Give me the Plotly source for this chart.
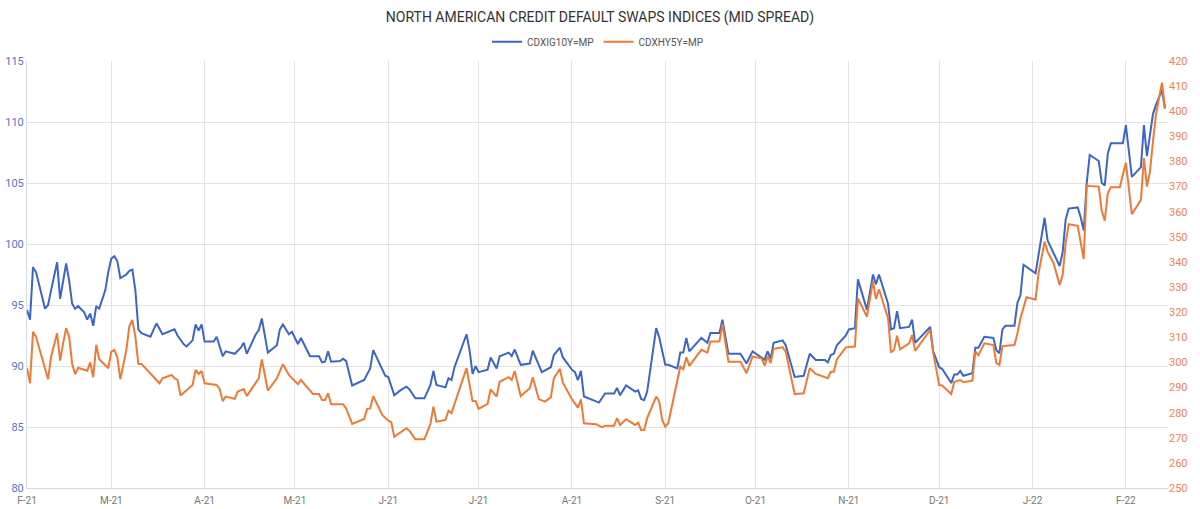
import plotly.graph_objects as go

ig_dates = [
    "2021-02-01", "2021-02-02", "2021-02-03", "2021-02-04", "2021-02-07", "2021-02-08", "2021-02-09", "2021-02-11",
    "2021-02-12", "2021-02-13", "2021-02-14", "2021-02-15", "2021-02-16", "2021-02-17", "2021-02-18", "2021-02-20",
    "2021-02-21", "2021-02-22", "2021-02-23", "2021-02-24", "2021-02-25", "2021-02-27", "2021-02-28", "2021-03-01",
    "2021-03-02", "2021-03-03", "2021-03-04", "2021-03-06", "2021-03-07", "2021-03-08", "2021-03-09", "2021-03-10",
    "2021-03-11", "2021-03-14", "2021-03-16", "2021-03-18", "2021-03-22", "2021-03-23", "2021-03-25", "2021-03-26",
    "2021-03-28", "2021-03-29", "2021-03-30", "2021-03-31", "2021-04-01", "2021-04-04", "2021-04-05", "2021-04-07",
    "2021-04-08", "2021-04-11", "2021-04-13", "2021-04-14", "2021-04-15", "2021-04-18", "2021-04-19", "2021-04-20",
    "2021-04-22", "2021-04-25", "2021-04-26", "2021-04-27", "2021-04-29", "2021-04-30", "2021-05-02", "2021-05-03",
    "2021-05-06", "2021-05-09", "2021-05-10", "2021-05-11", "2021-05-12", "2021-05-13", "2021-05-16", "2021-05-17",
    "2021-05-18", "2021-05-20", "2021-05-24", "2021-05-26", "2021-05-27", "2021-05-31", "2021-06-01", "2021-06-03",
    "2021-06-05", "2021-06-07", "2021-06-08", "2021-06-10", "2021-06-13", "2021-06-15", "2021-06-16", "2021-06-17",
    "2021-06-20", "2021-06-21", "2021-06-22", "2021-06-23", "2021-06-27", "2021-06-28", "2021-06-29", "2021-06-30",
    "2021-07-01", "2021-07-04", "2021-07-05", "2021-07-07", "2021-07-08", "2021-07-11", "2021-07-12", "2021-07-13",
    "2021-07-15", "2021-07-18", "2021-07-19", "2021-07-22", "2021-07-25", "2021-07-26", "2021-07-28", "2021-07-29",
    "2021-08-01", "2021-08-02", "2021-08-03", "2021-08-04", "2021-08-05", "2021-08-08", "2021-08-10", "2021-08-12",
    "2021-08-15", "2021-08-16", "2021-08-17", "2021-08-19", "2021-08-22", "2021-08-23", "2021-08-24", "2021-08-25",
    "2021-08-26", "2021-08-29", "2021-08-30", "2021-09-01", "2021-09-02", "2021-09-05", "2021-09-06", "2021-09-07",
    "2021-09-08", "2021-09-09", "2021-09-13", "2021-09-15", "2021-09-16", "2021-09-19", "2021-09-20", "2021-09-22",
    "2021-09-26", "2021-09-28", "2021-09-30", "2021-10-03", "2021-10-04", "2021-10-05", "2021-10-06", "2021-10-07",
    "2021-10-10", "2021-10-11", "2021-10-14", "2021-10-17", "2021-10-19", "2021-10-21", "2021-10-24", "2021-10-25",
    "2021-10-26", "2021-10-27", "2021-10-28", "2021-10-31", "2021-11-01", "2021-11-03", "2021-11-04", "2021-11-07",
    "2021-11-09", "2021-11-10", "2021-11-11", "2021-11-14", "2021-11-15", "2021-11-16", "2021-11-17", "2021-11-18",
    "2021-11-21", "2021-11-22", "2021-11-23", "2021-11-28", "2021-11-29", "2021-12-01", "2021-12-02", "2021-12-05",
    "2021-12-06", "2021-12-07", "2021-12-08", "2021-12-09", "2021-12-12", "2021-12-13", "2021-12-14", "2021-12-16",
    "2021-12-19", "2021-12-20", "2021-12-21", "2021-12-22", "2021-12-23", "2021-12-26", "2021-12-27", "2021-12-28",
    "2021-12-29", "2022-01-02", "2022-01-03", "2022-01-05", "2022-01-06", "2022-01-08", "2022-01-10", "2022-01-11",
    "2022-01-12", "2022-01-13", "2022-01-16", "2022-01-17", "2022-01-18", "2022-01-19", "2022-01-20", "2022-01-23",
    "2022-01-24", "2022-01-25", "2022-01-26", "2022-01-27", "2022-01-31", "2022-02-01", "2022-02-03", "2022-02-06",
    "2022-02-07", "2022-02-08", "2022-02-09", "2022-02-10", "2022-02-11", "2022-02-13", "2022-02-14",
]
ig_values = [
    94.6, 93.8, 98.1, 97.7, 94.7, 95.0, 96.2, 98.5,
    95.5, 97.0, 98.4, 97.0, 95.1, 94.7, 94.9, 94.4,
    93.8, 94.3, 93.3, 94.9, 94.7, 96.2, 97.7, 98.8,
    99.0, 98.6, 97.2, 97.5, 97.8, 97.9, 96.2, 93.0,
    92.7, 92.4, 93.5, 92.6, 93.0, 92.5, 91.8, 91.6,
    92.1, 93.4, 92.9, 93.4, 92.0, 92.0, 92.4, 90.8,
    91.2, 91.0, 91.5, 91.9, 91.0, 92.6, 92.95, 93.9,
    91.1, 91.7, 93.0, 93.4, 92.6, 92.8, 91.8, 92.3,
    90.8, 90.8, 90.3, 90.35, 91.2, 90.35, 90.4, 90.6,
    90.4, 88.4, 88.85, 89.8, 91.3, 89.2, 89.1, 87.6,
    88.0, 88.3, 88.1, 87.35, 87.35, 88.45, 89.6, 88.45,
    88.25, 89.0, 88.85, 89.9, 92.6, 91.3, 89.35, 90.0,
    89.5, 89.7, 90.7, 89.8, 90.8, 91.1, 90.8, 91.35,
    90.1, 90.2, 91.25, 89.5, 89.9, 90.9, 91.5, 90.7,
    89.7, 89.5, 88.85, 89.6, 87.5, 87.2, 87.0, 87.75,
    87.75, 88.2, 87.6, 88.4, 87.9, 88.0, 87.3, 87.2,
    87.9, 93.1, 92.35, 90.1, 90.1, 89.8, 91.1, 91.1,
    92.3, 91.2, 92.3, 91.9, 92.7, 92.7, 93.8, 91.0,
    91.0, 90.2, 91.2, 90.7, 90.5, 91.2, 90.6, 91.9,
    92.1, 91.7, 89.1, 89.2, 91.0, 90.5, 90.5, 90.3,
    90.9, 91.0, 91.7, 92.5, 93.0, 93.1, 97.1, 94.6,
    97.5, 96.7, 97.5, 95.1, 93.0, 93.1, 94.5, 93.1,
    93.2, 93.8, 91.9, 93.2, 91.2, 89.9, 89.75, 88.6,
    89.3, 89.3, 89.6, 89.2, 89.4, 91.5, 91.5, 92.4,
    92.3, 91.3, 91.05, 93.0, 93.3, 93.3, 95.2, 95.8,
    98.3, 97.6, 99.2, 102.15, 100.3, 99.3, 98.2, 99.3,
    102.0, 102.9, 103.0, 102.2, 101.1, 105.0, 107.3, 106.8,
    105.0, 104.8, 107.4, 108.25, 108.25, 109.75, 105.5, 106.3,
    109.75, 107.2, 109.1, 110.65, 111.4, 112.6, 111.1,
]

hy_dates = [
    "2021-02-01", "2021-02-02", "2021-02-03", "2021-02-04", "2021-02-08", "2021-02-09", "2021-02-11", "2021-02-12",
    "2021-02-13", "2021-02-14", "2021-02-15", "2021-02-16", "2021-02-17", "2021-02-18", "2021-02-21", "2021-02-22",
    "2021-02-23", "2021-02-24", "2021-02-25", "2021-02-28", "2021-03-01", "2021-03-02", "2021-03-03", "2021-03-04",
    "2021-03-06", "2021-03-07", "2021-03-08", "2021-03-09", "2021-03-10", "2021-03-11", "2021-03-15", "2021-03-17",
    "2021-03-18", "2021-03-21", "2021-03-22", "2021-03-23", "2021-03-24", "2021-03-28", "2021-03-29", "2021-03-30",
    "2021-03-31", "2021-04-01", "2021-04-05", "2021-04-06", "2021-04-07", "2021-04-08", "2021-04-11", "2021-04-12",
    "2021-04-14", "2021-04-15", "2021-04-19", "2021-04-20", "2021-04-22", "2021-04-25", "2021-04-27", "2021-04-29",
    "2021-05-02", "2021-05-03", "2021-05-07", "2021-05-09", "2021-05-10", "2021-05-11", "2021-05-12", "2021-05-13",
    "2021-05-17", "2021-05-18", "2021-05-20", "2021-05-24", "2021-05-25", "2021-05-26", "2021-05-27", "2021-05-30",
    "2021-06-01", "2021-06-02", "2021-06-03", "2021-06-05", "2021-06-07", "2021-06-08", "2021-06-10", "2021-06-13",
    "2021-06-15", "2021-06-16", "2021-06-17", "2021-06-20", "2021-06-21", "2021-06-22", "2021-06-27", "2021-06-29",
    "2021-06-30", "2021-07-01", "2021-07-04", "2021-07-05", "2021-07-07", "2021-07-08", "2021-07-11", "2021-07-12",
    "2021-07-13", "2021-07-15", "2021-07-18", "2021-07-19", "2021-07-21", "2021-07-23", "2021-07-25", "2021-07-26",
    "2021-07-28", "2021-07-29", "2021-08-01", "2021-08-03", "2021-08-04", "2021-08-05", "2021-08-09", "2021-08-11",
    "2021-08-12", "2021-08-15", "2021-08-16", "2021-08-17", "2021-08-19", "2021-08-22", "2021-08-23", "2021-08-24",
    "2021-08-25", "2021-08-26", "2021-08-29", "2021-08-30", "2021-08-31", "2021-09-01", "2021-09-02", "2021-09-06",
    "2021-09-07", "2021-09-08", "2021-09-09", "2021-09-13", "2021-09-15", "2021-09-16", "2021-09-19", "2021-09-20",
    "2021-09-22", "2021-09-26", "2021-09-28", "2021-09-30", "2021-10-03", "2021-10-04", "2021-10-05", "2021-10-06",
    "2021-10-07", "2021-10-10", "2021-10-11", "2021-10-14", "2021-10-17", "2021-10-19", "2021-10-21", "2021-10-25",
    "2021-10-26", "2021-10-27", "2021-10-28", "2021-10-31", "2021-11-03", "2021-11-04", "2021-11-07", "2021-11-09",
    "2021-11-10", "2021-11-11", "2021-11-14", "2021-11-15", "2021-11-16", "2021-11-17", "2021-11-18", "2021-11-21",
    "2021-11-22", "2021-11-23", "2021-11-28", "2021-11-29", "2021-12-01", "2021-12-02", "2021-12-05", "2021-12-06",
    "2021-12-07", "2021-12-08", "2021-12-09", "2021-12-12", "2021-12-13", "2021-12-14", "2021-12-16", "2021-12-19",
    "2021-12-20", "2021-12-21", "2021-12-22", "2021-12-26", "2021-12-27", "2021-12-28", "2021-12-30", "2022-01-02",
    "2022-01-03", "2022-01-05", "2022-01-06", "2022-01-08", "2022-01-10", "2022-01-11", "2022-01-12", "2022-01-13",
    "2022-01-16", "2022-01-18", "2022-01-19", "2022-01-20", "2022-01-23", "2022-01-24", "2022-01-25", "2022-01-26",
    "2022-01-27", "2022-01-30", "2022-02-01", "2022-02-03", "2022-02-06", "2022-02-07", "2022-02-08", "2022-02-09",
    "2022-02-10", "2022-02-11", "2022-02-13", "2022-02-14",
]
hy_values = [
    297.7, 291.7, 312.2, 310.2, 293.3, 302.3, 311.6, 300.7,
    307.6, 313.6, 310.2, 299.4, 295.3, 297.9, 296.7, 300.0,
    294.1, 307.0, 301.3, 297.7, 304.3, 305.0, 302.0, 293.3,
    305.0, 314.5, 316.9, 310.2, 299.4, 299.4, 294.3, 291.7,
    293.7, 295.0, 293.7, 293.0, 286.8, 291.0, 297.0, 295.4,
    296.6, 291.7, 291.0, 289.3, 284.6, 286.4, 285.5, 288.4,
    289.4, 286.6, 293.7, 301.2, 288.8, 293.7, 299.3, 295.0,
    291.3, 293.0, 287.4, 287.4, 285.0, 285.0, 287.7, 283.3,
    283.3, 281.7, 275.5, 277.5, 281.5, 281.7, 286.6, 279.1,
    276.8, 276.2, 270.4, 272.0, 273.8, 272.8, 269.4, 269.4,
    275.5, 282.4, 276.4, 277.1, 280.8, 279.8, 297.7, 284.6,
    284.6, 281.5, 283.5, 289.3, 286.4, 292.3, 294.1, 293.0,
    296.6, 286.6, 289.7, 294.1, 285.4, 284.4, 286.1, 293.7,
    297.4, 291.9, 285.3, 282.0, 285.3, 275.8, 275.4, 274.2,
    274.8, 274.8, 277.8, 275.1, 277.4, 275.1, 276.0, 273.1,
    273.1, 277.8, 286.4, 284.4, 277.1, 274.4, 275.8, 298.3,
    297.3, 302.1, 298.6, 305.0, 303.9, 308.3, 308.3, 315.3,
    300.3, 300.3, 295.7, 302.3, 301.6, 298.7, 302.3, 299.7,
    305.4, 306.0, 304.3, 287.4, 287.7, 297.7, 295.4, 293.7,
    296.3, 296.3, 301.2, 306.0, 306.3, 325.5, 318.2, 332.3,
    325.2, 329.1, 317.6, 303.9, 305.0, 310.6, 305.2, 307.6,
    310.9, 304.6, 312.9, 303.9, 291.0, 290.8, 287.4, 292.3,
    292.6, 293.0, 292.1, 292.7, 304.3, 302.9, 307.6, 306.9,
    299.7, 299.0, 306.5, 306.9, 311.6, 317.6, 326.0, 325.0,
    335.5, 348.1, 344.1, 339.5, 330.8, 334.8, 347.4, 355.0,
    354.4, 341.1, 370.4, 370.2, 370.0, 360.3, 356.4, 367.3,
    369.7, 369.7, 379.5, 359.0, 364.7, 381.3, 370.0, 375.9,
    387.9, 398.8, 411.4, 401.2,
]

tick_dates = [
    "2021-02-01", "2021-03-01", "2021-04-01", "2021-05-01", "2021-06-01", "2021-07-01", "2021-08-01",
    "2021-09-01", "2021-10-01", "2021-11-01", "2021-12-01", "2022-01-01", "2022-02-01",
]
tick_labels = ["F-21", "M-21", "A-21", "M-21", "J-21", "J-21", "A-21", "S-21", "O-21", "N-21", "D-21", "J-22", "F-22"]

BLUE = "#3d65c6"
ORANGE = "#ee7a37"
FONT = "Roboto"

fig = go.Figure()
fig.add_trace(go.Scatter(x=ig_dates, y=ig_values, name="CDXIG10Y=MP", mode="lines",
                         line=dict(color=BLUE, width=2), yaxis="y"))
fig.add_trace(go.Scatter(x=hy_dates, y=hy_values, name="CDXHY5Y=MP", mode="lines",
                         line=dict(color=ORANGE, width=2), yaxis="y2"))

fig.update_layout(
    width=1200, height=509,
    margin=dict(l=27, r=32, t=61, b=21, autoexpand=False),
    paper_bgcolor="white", plot_bgcolor="white",
    font=dict(family=FONT, size=11, color="#555555"),
    title=dict(text="NORTH AMERICAN CREDIT DEFAULT SWAPS INDICES (MID SPREAD)",
               x=0.5, xanchor="center", y=0.966, yanchor="middle", yref="container",
               font=dict(family=FONT, size=14, color="#333333")),
    showlegend=True,
    legend=dict(orientation="h", x=0.5, xanchor="center", y=1.045, yanchor="middle",
                font=dict(family=FONT, size=10, color="#555555"),
                itemwidth=30, tracegroupgap=0, bgcolor="rgba(0,0,0,0)"),
    xaxis=dict(type="date", range=["2021-02-01", "2022-02-15"], automargin=False,
               tickmode="array", tickvals=tick_dates, ticktext=tick_labels,
               showgrid=True, gridcolor="#e3e3e3", gridwidth=1,
               showline=True, linecolor="#d9d9d9", linewidth=1,
               ticks="", ticklabelstandoff=3,
               tickfont=dict(size=10, color="#777777"), zeroline=False),
    yaxis=dict(range=[80, 115], dtick=5, tick0=80, automargin=False,
               showgrid=True, gridcolor="#e3e3e3", gridwidth=1,
               showline=True, linecolor="#d6dcef", linewidth=1,
               ticks="", tickfont=dict(size=11, color="#5a74c2"), zeroline=False),
    yaxis2=dict(range=[250, 420], dtick=10, tick0=250, overlaying="y", side="right",
                automargin=False, showgrid=False, showline=False, ticks="",
                tickfont=dict(size=11, color="#ee8450"), zeroline=False),
    hovermode=False,
)

fig.write_html("out.html")
